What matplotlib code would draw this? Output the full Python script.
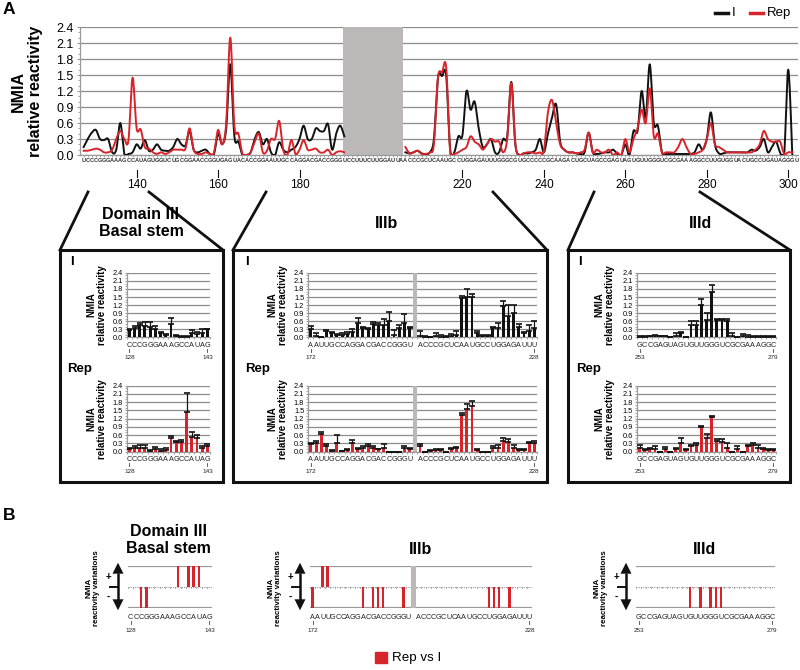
import numpy as np
import matplotlib
matplotlib.use("Agg")
import matplotlib.pyplot as plt
from matplotlib.patches import Rectangle, Polygon
import matplotlib.transforms as mtrans

plt.rcParams['font.family'] = ['Liberation Sans', 'DejaVu Sans']

# ---------------------------------------------------------------- data
seq_start = 127
sequence = ("UCCCGGGAAAGCCAUAG" "UGGUCUGCGGAACCGGUGAGUACACCGG" "AAUUGCCAGGACGACCGGGU"
            "CCUUUCUUGGAUUA" "ACCCGCUCAAUGCCUGGAGAUUU" "GGGCGUGCCCCCGCAAGACUGCUA"
            "GCCGAGUAGUGUUGGGUCGCGAAAGGC" "CUUGUGGUACUGCCUGAUAGGGU")
gap_nts = (192, 205)          # nucleotides without data
top_ticks = [140, 160, 180, 200, 220, 240, 260, 280, 300]
top_tick_labels = ["140", "160", "180", "", "220", "240", "260", "280", "300"]

nt_part1 = list(range(127, 192))
I_part1 = [0.15, 0.3, 0.42, 0.47, 0.3, 0.28, 0.3, 0.05, 0.1, 0.6,
           0.02, 0.02, 0.05, 0.2, 0.12, 0.28, 0.08, 0.1, 0.2, 0.1,
           0.08, 0.08, 0.15, 0.3, 0.2, 0.18, 0.45, 0.1, 0.05, 0.08,
           0.1, 0.02, 0.02, 0.4, 0.2, 0.5, 1.7, 0.35, 0.25, 0.0,
           0.0, 0.05, 0.3, 0.43, 0.2, 0.3, 0.05, 0.0, 0.24, 0.1,
           0.05, 0.1, 0.15, 0.3, 0.55, 0.3, 0.3, 0.5, 0.45, 0.45,
           0.58, 0.1, 0.4, 0.55, 0.35]
Rep_part1 = [0.08, 0.08, 0.1, 0.12, 0.1, 0.05, 0.05, 0.1, 0.3, 0.45,
             0.3, 0.28, 1.45, 0.5, 0.48, 0.15, 0.12, 0.05, 0.02, 0.05,
             0.02, 0.05, 0.1, 0.1, 0.1, 0.12, 0.5, 0.1, 0.02, 0.02,
             0.05, 0.02, 0.05, 0.47, 0.2, 0.6, 2.2, 0.55, 0.4, 0.02,
             0.0, 0.05, 0.25, 0.4, 0.05, 0.08, 0.3, 0.3, 0.64, 0.1,
             0.0, 0.28, 0.02, 0.1, 0.28, 0.1, 0.1, 0.12, 0.05, 0.05,
             0.1, 0.0, 0.05, 0.07, 0.05]
nt_part2 = list(range(206, 302))
I_part2 = [0.05, 0.03, 0.05, 0.08, 0.03, 0.02, 0.05, 0.3, 1.45, 1.48,
           1.5, 0.1, 0.05, 0.35, 0.37, 1.2, 0.85, 1.0, 0.5, 0.15,
           0.2, 0.3, 0.05, 0.05, 0.3, 0.35, 1.37, 0.2, 0.0, 0.03,
           0.03, 0.05, 0.1, 0.3, 0.05, 0.4, 0.7, 0.95, 0.25, 0.1,
           0.05, 0.05, 0.03, 0.02, 0.05, 0.42, 0.05, 0.02, 0.03, 0.05,
           0.05, 0.1, 0.02, 0.0, 0.2, 0.0, 0.45, 0.45, 1.2, 0.7,
           1.7, 0.6, 0.55, 0.05, 0.02, 0.02, 0.02, 0.02, 0.02, 0.02,
           0.02, 0.05, 0.2, 0.1, 0.3, 0.8, 0.2, 0.03, 0.03, 0.05,
           0.05, 0.05, 0.05, 0.05, 0.05, 0.1, 0.08, 0.15, 0.3, 0.05,
           0.15, 0.25, 0.05, 0.0, 1.6, 0.0]
Rep_part2 = [0.15, 0.03, 0.05, 0.08, 0.02, 0.02, 0.05, 0.2, 1.45, 1.55,
             1.65, 0.05, 0.02, 0.05, 0.1, 0.15, 0.35, 0.25, 0.2, 0.1,
             0.2, 0.3, 0.25, 0.25, 0.05, 0.3, 1.35, 0.2, 0.0, 0.03,
             0.05, 0.05, 0.03, 0.05, 0.08, 0.8, 1.03, 0.6, 0.2, 0.1,
             0.05, 0.05, 0.03, 0.05, 0.1, 0.42, 0.05, 0.1, 0.05, 0.05,
             0.1, 0.0, 0.05, 0.0, 0.3, 0.05, 0.3, 0.5, 0.85, 0.6,
             1.25, 0.35, 0.4, 0.05, 0.05, 0.05, 0.05, 0.15, 0.3, 0.15,
             0.02, 0.02, 0.05, 0.1, 0.3, 0.6, 0.2, 0.15, 0.1, 0.05,
             0.05, 0.05, 0.05, 0.05, 0.05, 0.05, 0.1, 0.2, 0.45, 0.3,
             0.25, 0.25, 0.25, 0.02, 0.05, 0.05]

# inset: Domain III basal stem (128-143)
bs_nts = list(range(128, 144))
bs_I = [0.28, 0.35, 0.45, 0.42, 0.4, 0.3, 0.15, 0.1, 0.5, 0.05, 0.03, 0.02, 0.15, 0.12, 0.18, 0.3]
bs_I_sd = [0.05, 0.07, 0.1, 0.16, 0.18, 0.12, 0.05, 0.02, 0.22, 0.03, 0.02, 0.03, 0.13, 0.08, 0.12, 0.02]
bs_Rep = [0.1, 0.12, 0.15, 0.12, 0.03, 0.08, 0.04, 0.06, 0.48, 0.35, 0.35, 1.45, 0.55, 0.5, 0.15, 0.2]
bs_Rep_sd = [0.05, 0.08, 0.1, 0.13, 0.03, 0.1, 0.06, 0.06, 0.09, 0.03, 0.07, 0.7, 0.15, 0.1, 0.05, 0.07]

# inset: IIIb (172-191 | 206-228)
b_nts = list(range(172, 192)) + list(range(206, 229))
b_I = [0.3, 0.05, 0.0, 0.25, 0.15, 0.08, 0.1, 0.12, 0.2, 0.55,
       0.35, 0.3, 0.5, 0.45, 0.45, 0.6, 0.1, 0.35, 0.55, 0.35,
       0.05, 0.02, 0.0, 0.05, 0.03, 0.02, 0.05, 0.1, 1.45, 1.5,
       1.5, 0.15, 0.05, 0.05, 0.35, 0.35, 1.15, 0.8, 0.9, 0.4,
       0.15, 0.25, 0.35]
b_I_sd = [0.12, 0.12, 0.0, 0.02, 0.05, 0.04, 0.05, 0.08, 0.1, 0.17,
          0.03, 0.05, 0.08, 0.1, 0.23, 0.35, 0.18, 0.13, 0.33, 0.05,
          0.2, 0.03, 0.0, 0.1, 0.05, 0.03, 0.07, 0.15, 0.1, 0.3,
          0.12, 0.1, 0.03, 0.03, 0.03, 0.2, 0.2, 0.42, 0.3, 0.1,
          0.05, 0.2, 0.27]
b_Rep = [0.28, 0.32, 0.65, 0.2, 0.03, 0.3, 0.02, 0.05, 0.3, 0.1,
         0.15, 0.2, 0.12, 0.08, 0.15, 0.0, 0.0, 0.0, 0.12, 0.1,
         0.22, 0.0, 0.03, 0.05, 0.05, 0.0, 0.1, 0.12, 1.35, 1.55,
         1.65, 0.05, 0.0, 0.0, 0.15, 0.12, 0.38, 0.35, 0.12, 0.05,
         0.05, 0.3, 0.3]
b_Rep_sd = [0.02, 0.06, 0.07, 0.08, 0.02, 0.32, 0.01, 0.05, 0.12, 0.05,
            0.07, 0.07, 0.1, 0.02, 0.13, 0.0, 0.0, 0.0, 0.08, 0.05,
            0.05, 0.0, 0.02, 0.05, 0.03, 0.0, 0.05, 0.06, 0.07, 0.2,
            0.2, 0.03, 0.0, 0.0, 0.07, 0.13, 0.12, 0.1, 0.13, 0.03,
            0.03, 0.05, 0.08]

# inset: IIId (253-279)
d_nts = list(range(253, 280))
d_I = [0.02, 0.03, 0.04, 0.05, 0.05, 0.04, 0.0, 0.05, 0.15, 0.0,
       0.45, 0.45, 1.2, 0.65, 1.7, 0.65, 0.65, 0.6, 0.05, 0.0,
       0.05, 0.03, 0.02, 0.02, 0.03, 0.02, 0.02]
d_I_sd = [0.03, 0.03, 0.03, 0.03, 0.02, 0.02, 0.0, 0.13, 0.07, 0.0,
          0.15, 0.15, 0.22, 0.25, 0.25, 0.05, 0.05, 0.1, 0.1, 0.0,
          0.07, 0.05, 0.03, 0.03, 0.03, 0.03, 0.02]
d_Rep = [0.15, 0.05, 0.08, 0.1, 0.0, 0.1, 0.0, 0.1, 0.3, 0.05,
         0.2, 0.25, 0.9, 0.5, 1.25, 0.4, 0.35, 0.15, 0.0, 0.1,
         0.0, 0.2, 0.25, 0.15, 0.1, 0.05, 0.05]
d_Rep_sd = [0.1, 0.03, 0.04, 0.1, 0.0, 0.08, 0.0, 0.05, 0.18, 0.03,
            0.05, 0.05, 0.02, 0.15, 0.05, 0.05, 0.1, 0.15, 0.0, 0.1,
            0.0, 0.05, 0.05, 0.1, 0.05, 0.03, 0.03]

# panel B: positions with increased (+) / decreased (-) reactivity, Rep vs I
bs_up, bs_down = [137, 139, 140, 141], [130, 131]
b_up, b_down = [174, 175], [172, 182, 184, 185, 186, 190, 220, 221, 222, 224]
d_up, d_down = [], [263, 265, 267, 268, 269]

BLACK = "#111111"
RED = "#d9232a"
GRID = "#8c8c8c"
GAPGRAY = "#bcb8b8"

# ---------------------------------------------------------------- helpers
W, H = 800, 670
fig = plt.figure(figsize=(W / 100, H / 100), dpi=100)
ov = fig.add_axes([0, 0, 1, 1])
ov.set_xlim(0, W)
ov.set_ylim(H, 0)
ov.axis("off")


def px_ax(l, t, r, b):
    return fig.add_axes([l / W, 1 - b / H, (r - l) / W, (b - t) / H])


def smooth(xs, ys, n=12):
    xs = np.asarray(xs, float)
    ys = np.asarray(ys, float)
    px = np.concatenate([[xs[0]], xs, [xs[-1]]])
    py = np.concatenate([[ys[0]], ys, [ys[-1]]])
    ox, oy = [], []
    t = np.linspace(0, 1, n, endpoint=False)
    for i in range(1, len(px) - 2):
        for arr, out in ((px, ox), (py, oy)):
            p0, p1, p2, p3 = arr[i - 1], arr[i], arr[i + 1], arr[i + 2]
            out.extend(0.5 * ((2 * p1) + (-p0 + p2) * t + (2 * p0 - 5 * p1 + 4 * p2 - p3) * t ** 2
                              + (-p0 + 3 * p1 - 3 * p2 + p3) * t ** 3))
    ox.append(xs[-1])
    oy.append(ys[-1])
    return np.array(ox), np.clip(np.array(oy), 0, None)


def style_value_axis(ax, fs):
    ax.set_ylim(0, 2.4)
    ax.set_yticks(np.arange(0, 2.41, 0.3))
    ax.set_yticklabels(["%.1f" % v for v in np.arange(0, 2.41, 0.3)], fontsize=fs)
    ax.set_yticks(np.arange(0, 2.41, 0.1), minor=True)
    ax.yaxis.grid(True, color=GRID, lw=0.9)
    ax.set_axisbelow(True)
    for s in ("top", "right"):
        ax.spines[s].set_visible(False)
    for s in ("left", "bottom"):
        ax.spines[s].set_color("#9a9a9a")
        ax.spines[s].set_linewidth(0.9)
    ax.tick_params(axis="y", which="major", length=2.5, color="#9a9a9a", pad=2)
    ax.tick_params(axis="y", which="minor", length=1.5, color="#9a9a9a")


# ---------------------------------------------------------------- panel A: profile
ax = px_ax(80, 27, 798, 155)
ax.set_xlim(126.1, 302.4)
style_value_axis(ax, 9)
ax.axvspan(gap_nts[0] - 1.2, gap_nts[1] + 0.4, color=GAPGRAY, lw=0, zorder=1.5)
for nts, I_v, R_v in ((nt_part1, I_part1, Rep_part1), (nt_part2, I_part2, Rep_part2)):
    sx, sy = smooth(nts, I_v)
    ax.plot(sx, sy, color=BLACK, lw=1.4, zorder=3, solid_joinstyle="round")
    sx, sy = smooth(nts, R_v)
    ax.plot(sx, sy, color=RED, lw=1.4, zorder=3.1, solid_joinstyle="round")
ax.set_xticks([])
ax.set_xticks(np.arange(seq_start, seq_start + len(sequence)), minor=True)
ax.tick_params(axis="x", which="minor", length=1.5, color="#9a9a9a")
trans = mtrans.blended_transform_factory(ax.transData, ax.transAxes)
for i, ch in enumerate(sequence):
    ax.text(seq_start + i, -5.5 / 128, ch, transform=trans, fontsize=4.1, fontweight="bold",
            color="#333333", ha="center", va="center", clip_on=False)
for t, lab in zip(top_ticks, top_tick_labels):
    if lab:
        ax.plot([t, t], [-15 / 128, -22 / 128], transform=trans, color=BLACK, lw=0.8, clip_on=False)
        ax.text(t, -30 / 128, lab, transform=trans, fontsize=8.5, ha="center", va="center")

ov.text(3, 10, "A", fontsize=12.5, fontweight="bold", va="center", ha="left")
ov.text(27, 91, "NMIA\nrelative reactivity", rotation=90, fontsize=11.5, fontweight="bold",
        ha="center", va="center", linespacing=1.15)
ov.plot([715, 728], [13, 13], color=BLACK, lw=2.5)
ov.text(732, 13, "I", fontsize=9.5, va="center")
ov.plot([750, 763], [13, 13], color=RED, lw=2.5)
ov.text(767, 13, "Rep", fontsize=9.5, va="center")

# ---------------------------------------------------------------- panel A: insets
boxes = [(60, 250, 223, 482), (233, 250, 547, 482), (568, 250, 790, 482)]
zoom_lines = [((88, 192), (60, 250)), ((149, 192), (223, 250)),
              ((266, 192), (233, 250)), ((493, 192), (547, 250)),
              ((594, 192), (568, 250)), ((700, 192), (790, 250))]
for (l, t, r, b) in boxes:
    ov.add_patch(Rectangle((l, t), r - l, b - t, fill=False, ec=BLACK, lw=2.2))
for (p, q) in zoom_lines:
    ov.plot([p[0], q[0]], [p[1], q[1]], color=BLACK, lw=2.0)

ov.text(141, 223, "Domain III\nBasal stem", fontsize=11.5, fontweight="bold", ha="center",
        va="center", linespacing=1.1)
ov.text(386, 223, "IIIb", fontsize=11.5, fontweight="bold", ha="center", va="center")
ov.text(700, 223, "IIId", fontsize=11.5, fontweight="bold", ha="center", va="center")


def bar_inset(l, t, r, b, nts, vals, sds, color, gap_slot=None):
    """nts: nucleotides; slots are consecutive with an optional gray gap slot."""
    ax = px_ax(l, t, r, b)
    nslots = len(nts) + (1 if gap_slot is not None else 0)
    xs = []
    for i in range(len(nts)):
        xs.append(i + (1 if gap_slot is not None and i >= gap_slot else 0))
    xs = np.array(xs)
    ax.set_xlim(-0.5, nslots - 0.5)
    style_value_axis(ax, 5.3)
    ax.tick_params(axis="y", which="major", length=1.5, pad=1.5)
    ax.bar(xs, vals, width=0.55, color=color, zorder=3)
    ax.errorbar(xs, vals, yerr=[np.zeros(len(vals)), sds], fmt="none", ecolor=BLACK,
                elinewidth=0.9, capsize=2.2, capthick=1.2, zorder=4)
    if gap_slot is not None:
        ax.axvspan(gap_slot - 0.45, gap_slot + 0.45, color=GAPGRAY, lw=0, zorder=2)
    ax.set_xticks([])
    ax.set_xticks(np.arange(nslots + 1) - 0.5, minor=True)
    ax.tick_params(axis="x", which="minor", length=1.2, color="#9a9a9a")
    tr = mtrans.blended_transform_factory(ax.transData, ax.transAxes)
    hgt = b - t
    for x, n in zip(xs, nts):
        ax.text(x, -8 / hgt, sequence[n - seq_start], transform=tr, fontsize=5.2,
                ha="center", va="center", color="#222222")
    for x, n in ((xs[0], nts[0]), (xs[-1], nts[-1])):
        ax.plot([x, x], [-11.5 / hgt, -14.5 / hgt], transform=tr, color="#444444", lw=0.6, clip_on=False)
        ax.text(x, -20 / hgt, str(n), transform=tr, fontsize=4.6, ha="center", va="center", color="#222222")
    return ax


def inset_ylabel(x, y):
    ov.text(x, y, "NMIA\nrelative reactivity", rotation=90, fontsize=7, fontweight="bold",
            ha="center", va="center", linespacing=1.1)


insets = [
    (126.7, 210, bs_nts, bs_I, bs_I_sd, bs_Rep, bs_Rep_sd, None, 96.5, 67, 70),
    (308.3, 537, b_nts, b_I, b_I_sd, b_Rep, b_Rep_sd, 20, 278, 245, 245),
    (637, 776, d_nts, d_I, d_I_sd, d_Rep, d_Rep_sd, None, 605, 576, 578),
]
for (l, r, nts, Iv, Isd, Rv, Rsd, gap, ylx, repx, ix) in insets:
    bar_inset(l, 272.7, r, 337.5, nts, Iv, Isd, BLACK, gap)
    bar_inset(l, 385.7, r, 451.7, nts, Rv, Rsd, RED, gap)
    inset_ylabel(ylx, 305)
    inset_ylabel(ylx, 418.7)
    ov.text(ix, 262, "I", fontsize=9.5, fontweight="bold", ha="left", va="center")
    ov.text(repx, 369, "Rep", fontsize=9.5, fontweight="bold", ha="left", va="center")

# ---------------------------------------------------------------- panel B
ov.text(3, 516, "B", fontsize=12.5, fontweight="bold", va="center", ha="left")


def diff_panel(l, r, nts, up, down, gap_slot=None):
    t, b = 565.7, 608.3
    ax = px_ax(l, t, r, b)
    nslots = len(nts) + (1 if gap_slot is not None else 0)
    pos = {}
    for i, n in enumerate(nts):
        pos[n] = i + (1 if gap_slot is not None and i >= gap_slot else 0)
    ax.set_xlim(-0.5, nslots - 0.5)
    ax.set_ylim(-1, 1)
    ax.axis("off")
    ax.axhline(1, color="#9a9a9a", lw=1.6)
    ax.axhline(-1, color="#9a9a9a", lw=1.6)
    ax.axhline(0, color="#9a9a9a", lw=0.8, ls=(0, (1, 1)))
    for k in range(nslots + 1):
        ax.plot([k - 0.5, k - 0.5], [0, -0.07], color="#9a9a9a", lw=0.6)
    for n in up:
        ax.bar(pos[n], 1, bottom=0, width=0.5, color=RED, zorder=3)
    for n in down:
        ax.bar(pos[n], -1, bottom=0, width=0.5, color=RED, zorder=3)
    if gap_slot is not None:
        ax.bar(gap_slot, 2.1, bottom=-1.05, width=0.9, color=GAPGRAY, zorder=2)
    tr = mtrans.blended_transform_factory(ax.transData, ax.transAxes)
    hgt = b - t
    xs = [pos[n] for n in nts]
    for x, n in zip(xs, nts):
        ax.text(x, -9 / hgt, sequence[n - seq_start], transform=tr, fontsize=5.2,
                ha="center", va="center", color="#222222")
    for x, n in ((xs[0], nts[0]), (xs[-1], nts[-1])):
        ax.plot([x, x], [-13 / hgt, -16 / hgt], transform=tr, color="#444444", lw=0.6, clip_on=False)
        ax.text(x, -22 / hgt, str(n), transform=tr, fontsize=4.6, ha="center", va="center", color="#222222")
    # double-headed arrow, middle tick, +/- and label
    axx = l - 10
    mid = (t + b) / 2
    ov.plot([axx, axx], [t + 7, b - 7], color=BLACK, lw=1.8, solid_capstyle="butt")
    ov.add_patch(Polygon([[axx, t - 3], [axx - 5.5, t + 8], [axx + 5.5, t + 8]], closed=True,
                         color=BLACK, lw=0))
    ov.add_patch(Polygon([[axx, b + 2], [axx - 5.5, b - 9], [axx + 5.5, b - 9]], closed=True,
                         color=BLACK, lw=0))
    ov.plot([axx - 8, axx], [mid, mid], color=BLACK, lw=1.4)
    ov.text(axx - 10, 577, "+", fontsize=7, fontweight="bold", ha="center", va="center")
    ov.text(axx - 10, 597, "-", fontsize=7, fontweight="bold", ha="center", va="center")
    ov.text(l - 35, 588, "NMIA\nreactivity variations", rotation=90, fontsize=5.8,
            fontweight="bold", ha="center", va="center", linespacing=1.1)


diff_panel(128, 212, bs_nts, bs_up, bs_down)
diff_panel(310, 532, b_nts, b_up, b_down, gap_slot=20)
diff_panel(636, 775, d_nts, d_up, d_down)

ov.text(168, 540, "Domain III\nBasal stem", fontsize=11.5, fontweight="bold", ha="center",
        va="center", linespacing=1.1)
ov.text(421, 550, "IIIb", fontsize=11.5, fontweight="bold", ha="center", va="center")
ov.text(704, 550, "IIId", fontsize=11.5, fontweight="bold", ha="center", va="center")

ov.add_patch(Rectangle((375, 652), 12, 11, color=RED))
ov.text(392, 657.5, "Rep vs I", fontsize=9.6, ha="left", va="center")

fig.savefig("out.png", dpi=100)
